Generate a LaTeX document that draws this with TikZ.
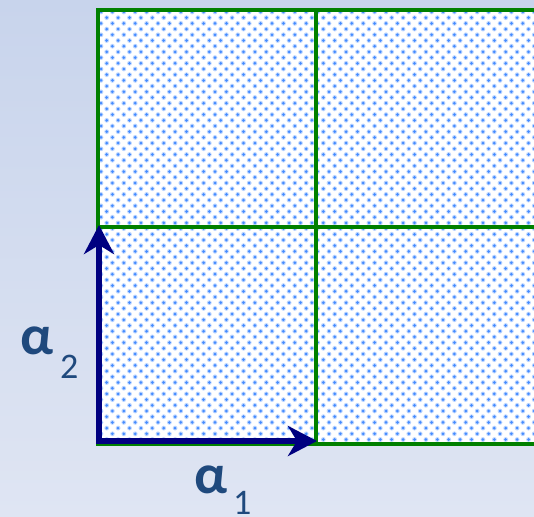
\documentclass[tikz,border=0pt]{standalone}
\usepackage{fontspec}
\setmainfont{Carlito}
\usetikzlibrary{arrows.meta}
\definecolor{bgtop}{RGB}{200,212,236}
\definecolor{bgbot}{RGB}{223,229,243}
\definecolor{gridgreen}{RGB}{0,128,0}
\definecolor{arrownavy}{RGB}{0,0,128}
\definecolor{dotblue}{RGB}{70,140,255}
\definecolor{labelblue}{RGB}{31,73,125}
\tikzset{
  gridline/.style={draw=gridgreen, line width=3.2pt},
  basisarrow/.style={draw=arrownavy, line width=6pt, -{Stealth[length=29pt,width=30pt,inset=9pt]}},
  lbl/.style={text=labelblue, inner sep=0pt, anchor=base west, font=\fontsize{56pt}{56pt}\selectfont\bfseries},
  sublbl/.style={text=labelblue, inner sep=0pt, anchor=base west, font=\fontsize{36pt}{36pt}\selectfont},
}
\begin{document}
\begin{tikzpicture}[x=1pt,y=-1pt]
\useasboundingbox (0,0) rectangle (534,516);
\shade[top color=bgtop, bottom color=bgbot] (0,0) rectangle (534,516);
% cell fill
\fill[white] (98,10) rectangle (540,444);
\begin{scope}
\clip (98,10) rectangle (534,444);
\foreach \j [evaluate=\j as \yy using 12+\j*5.7, evaluate=\j as \off using {mod(\j,2)*5.7}] in {0,...,76} {
  \foreach \i in {0,...,38} {
    \fill[dotblue!35] (101+\i*11.4+\off,\yy) circle (2.4);
    \fill[dotblue] (101+\i*11.4+\off,\yy) circle (1.5);
  }
}
\end{scope}
% grid
\draw[gridline] (540,10) -- (98,10) -- (98,444) -- (540,444);
\draw[gridline] (316,10) -- (316,444);
\draw[gridline] (98,227) -- (540,227);
% basis vectors
\coordinate (O) at (99,441);
\coordinate (A1) at (317,441);
\coordinate (A2) at (99,225);
\draw[basisarrow] ([xshift=-3pt]O) -- (A1);
\draw[basisarrow] ([yshift=3pt]O) -- (A2);
% labels
\node[lbl] (l2) at (20,354) {α};
\node[sublbl] (l2s) at (60,378) {2};
\node[lbl] (l1) at (194,493) {α};
\node[sublbl] (l1s) at (233,514) {1};
\end{tikzpicture}
\end{document}
